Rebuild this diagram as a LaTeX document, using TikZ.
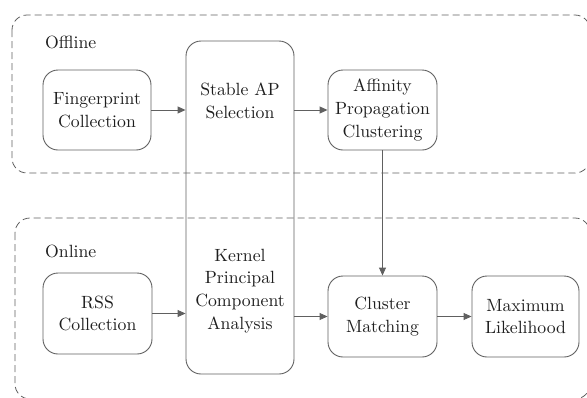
\documentclass[tikz,border=0pt]{standalone}
\usepackage{fontspec}
\setmainfont{lmroman10-regular.otf}
\usetikzlibrary{arrows.meta}
\definecolor{linec}{HTML}{606060}
\definecolor{textc}{HTML}{1E1E1E}
\tikzset{
  box/.style={draw=linec, line width=0.9pt, rounded corners=15pt, align=center,
    text=textc, inner sep=0pt, font=\fontsize{17.7}{22.8}\selectfont},
  lbl/.style={text=textc, inner sep=0pt, align=center, font=\fontsize{17.7}{22.8}\selectfont},
  group/.style={draw=linec, line width=0.8pt, dash pattern=on 7pt off 4pt, rounded corners=15pt},
  arr/.style={draw=linec, line width=0.9pt, -{Triangle[length=8pt,width=7pt]}}
}
\begin{document}
\begin{tikzpicture}[x=1pt,y=-1pt]
\useasboundingbox (0,0) rectangle (587,397);
\begin{scope}
\clip (0,0) rectangle (587,397);
\draw[group] (12,15) rectangle (590,173);
\draw[group] (15,218) rectangle (590,399);
\end{scope}
\node[lbl, anchor=base west] (off) at (45,48) {Offline};
\node[lbl, anchor=base west] (on) at (45,257) {Online};

\node[box, minimum width=108pt, minimum height=333pt] (big) at (240,207.5) {};
\node[lbl] (sap) at (240,101) {Stable AP\\Selection};
\node[lbl] (kpca) at (240,291) {Kernel\\Principal\\Component\\Analysis};

\node[box, minimum width=108pt, minimum height=80pt] (fp) at (97,110) {Fingerprint\\Collection};
\node[box, minimum width=109pt, minimum height=80pt] (aff) at (382.5,110) {Affinity\\Propagation\\Clustering};
\node[box, minimum width=109pt, minimum height=81pt] (rss) at (97.5,313.5) {RSS\\Collection};
\node[box, minimum width=109pt, minimum height=81pt] (cm) at (382.5,316.5) {Cluster\\Matching};
\node[box, minimum width=107pt, minimum height=81pt] (ml) at (525.5,316.5) {Maximum\\Likelihood};

\draw[arr] (fp.east) -- (fp.east -| big.west);
\draw[arr] (aff.west -| big.east) -- (aff.west);
\draw[arr] (rss.east) -- (rss.east -| big.west);
\draw[arr] (cm.west -| big.east) -- (cm.west);
\draw[arr] (aff.south) -- (cm.north);
\draw[arr] (cm.east) -- (ml.west);
\end{tikzpicture}
\end{document}
